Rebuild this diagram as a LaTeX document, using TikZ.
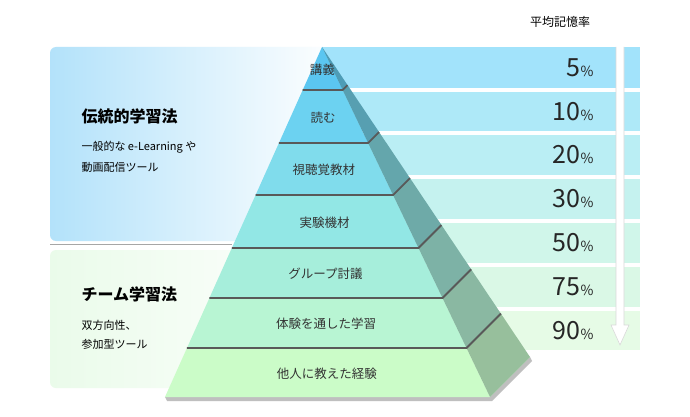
\documentclass[tikz,border=0pt]{standalone}
\usepackage{fontspec}
\setmainfont{Noto Sans CJK JP}
\begin{document}
\begin{tikzpicture}[x=1pt,y=-1pt,
  lbl/.style={font=\fontsize{12.5}{14}\selectfont, text=black!80},
  pct/.style={font=\fontsize{25}{27}\selectfont, text=black!85, anchor=east},
  divider/.style={draw=black!65, line width=1.8pt}]
\useasboundingbox (0,0) rectangle (690,417);
\fill[white] (0,0) rectangle (690,417);
% left panels
\definecolor{pb}{HTML}{B3E2FA}\definecolor{pg}{HTML}{EAFBEA}
\shade[left color=pb, right color=white, rounded corners=6pt] (50,47) rectangle (340,241);
\draw[black!35, line width=1pt] (50,244) -- (232,244);
\shade[left color=pg, right color=white, rounded corners=6pt] (50,250) rectangle (330,388);
\node[anchor=west, font=\fontsize{16}{18}\selectfont\bfseries] (t1) at (78,116) {伝統的学習法};
\node[anchor=west, font=\fontsize{11}{12}\selectfont] (s1) at (78,147) {一般的な e-Learning や};
\node[anchor=west, font=\fontsize{11}{12}\selectfont] (s2) at (78,167) {動画配信ツール};
\node[anchor=west, font=\fontsize{16}{18}\selectfont\bfseries] (t2) at (78,294) {チーム学習法};
\node[anchor=west, font=\fontsize{11}{12}\selectfont] (s3) at (78,325) {双方向性、};
\node[anchor=west, font=\fontsize{11}{12}\selectfont] (s4) at (78,344) {参加型ツール};
% title
\node[font=\fontsize{12}{13}\selectfont] (title) at (560,22) {平均記憶率};
% bars
\definecolor{b1}{HTML}{A2E3FB}\definecolor{b2}{HTML}{AEE9F8}\definecolor{b3}{HTML}{BAEEF4}
\definecolor{b4}{HTML}{C5F2EF}\definecolor{b5}{HTML}{D0F6EA}\definecolor{b6}{HTML}{DAF8E6}\definecolor{b7}{HTML}{E6FBE6}
\foreach \c/\ya/\yb/\p [count=\i] in {b1/47/88/5,b2/92/131/10,b3/135/175/20,b4/179/219/30,b5/223/263/50,b6/267/307/75,b7/311/350/90}{
  \fill[\c] (322,\ya) rectangle (640,\yb);
  \node[pct] (p\i) at (597,{(\ya+\yb)/2}) {\p\fontsize{14}{15}\selectfont\%};
}
% arrow
\coordinate (ar2) at (620,345);
\draw[black!15, fill=white, line width=0.6pt] (616,47) -- (616,325) -- (611,325) -- (ar2) -- (629,325) -- (624,325) -- (624,47);
% shadow
\fill[black!25] (165,397) -- (490,397) -- (530,357) -- (532,361) -- (492,401) -- (167,401) -- cycle;
% pyramid
\definecolor{f1}{HTML}{5BC6F1}\definecolor{f2}{HTML}{6CD2F1}\definecolor{f3}{HTML}{80DCEC}
\definecolor{f4}{HTML}{92E7E5}\definecolor{f5}{HTML}{A6EEDB}\definecolor{f6}{HTML}{B8F5D3}\definecolor{f7}{HTML}{CBFCC8}
\definecolor{d1}{HTML}{4E9CB6}\definecolor{d2}{HTML}{579FB1}\definecolor{d3}{HTML}{64A6AC}\definecolor{d4}{HTML}{6EAAA8}
\definecolor{d5}{HTML}{7DB2A6}\definecolor{d6}{HTML}{8AB8A2}\definecolor{d7}{HTML}{97BF9C}
\foreach \ya/\yb/\txt [count=\i] in {47/90/講義,90/143/読む,143/195/視聴覚教材,195/248/実験機材,248/298/グループ討議,298/348/体験を通した学習,348/397/他人に教えた経験}{
  \pgfmathsetmacro{\La}{322-(\ya-47)*0.4486}
  \pgfmathsetmacro{\Lb}{322-(\yb-47)*0.4486}
  \pgfmathsetmacro{\Ra}{322+(\ya-47)*0.48}
  \pgfmathsetmacro{\Rb}{322+(\yb-47)*0.48}
  \pgfmathsetmacro{\ta}{(\ya-47)*40/350}
  \pgfmathsetmacro{\tb}{(\yb-47)*40/350}
  \fill[f\i] (\La,\ya) -- (\Ra,\ya) -- (\Rb,\yb) -- (\Lb,\yb) -- cycle;
  \fill[d\i] (\Ra,\ya) -- ({\Ra+\ta},{\ya-\ta}) -- ({\Rb+\tb},{\yb-\tb}) -- (\Rb,\yb) -- cycle;
  \node[lbl] (l\i) at ({322+((\ya+\yb)/2-47)*0.015},{(\ya+\yb)/2+1}) {\txt};
}
\foreach \yb in {90,143,195,248,298,348}{
  \pgfmathsetmacro{\Lb}{322-(\yb-47)*0.4486}
  \pgfmathsetmacro{\Rb}{322+(\yb-47)*0.48}
  \pgfmathsetmacro{\tb}{(\yb-47)*40/350}
  \draw[divider] (\Lb,\yb) -- (\Rb,\yb) -- ({\Rb+\tb},{\yb-\tb});
}
\end{tikzpicture}
\end{document}
